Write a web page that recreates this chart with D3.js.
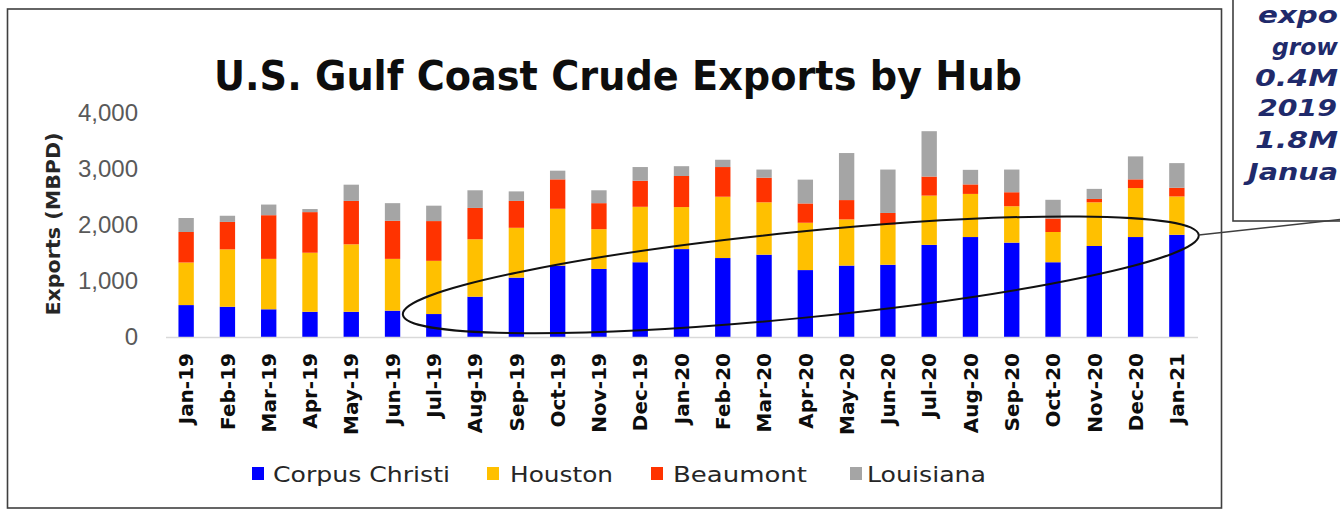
<!DOCTYPE html>
<html>
<head>
<meta charset="utf-8">
<script src="https://cdn.jsdelivr.net/npm/d3@7/dist/d3.min.js"></script>
<style>
  html, body { margin: 0; padding: 0; background: #ffffff; }
  svg { display: block; }
</style>
</head>
<body>
<svg id="chart" width="1340" height="509"></svg>
<script>
// Monthly crude exports from U.S. Gulf Coast hubs, thousand barrels per day
const months = ["Jan-19","Feb-19","Mar-19","Apr-19","May-19","Jun-19","Jul-19","Aug-19",
  "Sep-19","Oct-19","Nov-19","Dec-19","Jan-20","Feb-20","Mar-20","Apr-20","May-20",
  "Jun-20","Jul-20","Aug-20","Sep-20","Oct-20","Nov-20","Dec-20","Jan-21"];
const corpusChristi = [570, 540, 495, 450, 450, 470, 410, 720, 1060, 1275, 1215, 1335, 1570,
  1410, 1470, 1195, 1275, 1290, 1645, 1785, 1685, 1335, 1625, 1785, 1825];
const houston = [760, 1025, 900, 1055, 1205, 925, 950, 1025, 890, 1015, 710, 990, 750,
  1095, 935, 845, 825, 715, 880, 770, 650, 540, 780, 875, 685];
const beaumont = [545, 490, 780, 725, 775, 680, 710, 560, 480, 525, 465, 465, 555,
  530, 440, 345, 345, 210, 340, 170, 250, 240, 60, 155, 155];
const louisiana = [250, 110, 190, 55, 290, 315, 275, 315, 170, 155, 230, 245, 175,
  130, 145, 425, 840, 775, 810, 260, 405, 335, 180, 410, 440];

const seriesNames = ["Corpus Christi", "Houston", "Beaumont", "Louisiana"];
const seriesColors = ["#0000FF", "#FFC000", "#FF3300", "#A5A5A5"];
const yTicks = [0, 1000, 2000, 3000, 4000];

const titleText = "U.S. Gulf Coast Crude Exports by Hub";
const yAxisTitle = "Exports (MBPD)";
// callout note, as much of each line as fits inside the page edge
const noteLines = ["expo", "grow", "0.4M", "2019", "1.8M", "Janua"];

// one row per month for the stack layout
const seriesArrays = [corpusChristi, houston, beaumont, louisiana];
const rows = months.map((m, i) => {
  const r = { month: m };
  seriesNames.forEach((s, k) => { r[s] = seriesArrays[k][i]; });
  return r;
});

const svg = d3.select("#chart");

// chart frame
svg.append("rect")
  .attr("x", 7.5).attr("y", 9)
  .attr("width", 1214).attr("height", 499)
  .attr("fill", "#ffffff")
  .attr("stroke", "#3f3f3f").attr("stroke-width", 1.6);

const x = d3.scaleBand().domain(months).range([165.5, 1197.5])
  .paddingInner(0.628).paddingOuter(0.314);
const y = d3.scaleLinear().domain([0, 4000]).range([337, 113]);

// title
svg.append("text")
  .attr("x", 214).attr("y", 90)
  .attr("font-family", "DejaVu Sans, sans-serif")
  .attr("font-weight", "bold")
  .attr("font-size", 40)
  .attr("fill", "#0d0d0d")
  .attr("textLength", 808)
  .attr("lengthAdjust", "spacingAndGlyphs")
  .text(titleText);

// y axis labels
const yAxis = svg.append("g")
  .attr("transform", "translate(140,0)")
  .call(d3.axisLeft(y).tickValues(yTicks).tickFormat(d3.format(",")).tickSize(0).tickPadding(2));
yAxis.select(".domain").remove();
yAxis.selectAll("text")
  .attr("font-family", "Liberation Sans, Arial, sans-serif")
  .attr("font-size", 24)
  .attr("fill", "#595959");

svg.append("text")
  .attr("transform", "translate(60,224) rotate(-90)")
  .attr("text-anchor", "middle")
  .attr("font-family", "DejaVu Sans, sans-serif")
  .attr("font-weight", "bold")
  .attr("font-size", 19)
  .attr("fill", "#262626")
  .attr("textLength", 183)
  .attr("lengthAdjust", "spacingAndGlyphs")
  .text(yAxisTitle);

// stacked bars
const stacked = d3.stack().keys(seriesNames)(rows);
svg.append("g").selectAll("g")
  .data(stacked)
  .join("g")
  .attr("fill", (d, i) => seriesColors[i])
  .selectAll("rect")
  .data(d => d)
  .join("rect")
  .attr("x", d => x(d.data.month))
  .attr("width", x.bandwidth())
  .attr("y", d => y(d[1]))
  .attr("height", d => y(d[0]) - y(d[1]));

// x axis
const xAxis = svg.append("g")
  .attr("transform", `translate(0,${y(0)})`)
  .call(d3.axisBottom(x).tickSize(0).tickSizeOuter(0));
xAxis.select(".domain").attr("stroke", "#d9d9d9").attr("stroke-width", 1.5);
xAxis.selectAll("text")
  .attr("font-family", "DejaVu Sans, sans-serif")
  .attr("font-weight", "bold")
  .attr("font-size", 20)
  .attr("fill", "#0d0d0d")
  .attr("text-anchor", "end")
  .attr("transform", "rotate(-90)")
  .attr("x", -16)
  .attr("y", 0)
  .attr("dy", "0.36em");

// ellipse around the Corpus Christi run-up (0.4 to 1.8 MMBPD)
const cx = m => x(m) + x.bandwidth() / 2;
const tipL = [cx("Jul-19") - 0.75 * x.step(), y(400)];
const tipR = [cx("Jan-21") + 0.53 * x.step(), y(1820)];
const ecx = (tipL[0] + tipR[0]) / 2, ecy = (tipL[1] + tipR[1]) / 2;
const erx = Math.hypot(tipR[0] - tipL[0], tipR[1] - tipL[1]) / 2;
const eang = Math.atan2(tipR[1] - tipL[1], tipR[0] - tipL[0]) * 180 / Math.PI;
svg.append("ellipse")
  .attr("cx", ecx).attr("cy", ecy)
  .attr("rx", erx).attr("ry", 43)
  .attr("transform", `rotate(${eang},${ecx},${ecy})`)
  .attr("fill", "none")
  .attr("stroke", "#111111")
  .attr("stroke-width", 2);

// callout box with note
svg.append("rect")
  .attr("x", 1233).attr("y", -10)
  .attr("width", 220).attr("height", 231)
  .attr("fill", "#ffffff")
  .attr("stroke", "#3f3f3f").attr("stroke-width", 1.6);

svg.append("line")
  .attr("x1", tipR[0]).attr("y1", tipR[1])
  .attr("x2", 1345).attr("y2", 219)
  .attr("stroke", "#3f3f3f").attr("stroke-width", 1.5);

const noteX = [1258, 1272, 1255, 1258, 1255, 1248];
const noteW = [80, 66, 83, 79, 83, 90];
const noteY = [23, 55, 86, 116, 148, 180];
svg.append("g").selectAll("text")
  .data(noteLines)
  .join("text")
  .attr("x", (d, i) => noteX[i])
  .attr("y", (d, i) => noteY[i])
  .attr("font-family", "DejaVu Sans, sans-serif")
  .attr("font-weight", "bold")
  .attr("font-style", "italic")
  .attr("font-size", 23)
  .attr("fill", "#1f2a6b")
  .attr("textLength", (d, i) => noteW[i])
  .attr("lengthAdjust", "spacingAndGlyphs")
  .text(d => d);

// legend
const legendSquareX = [252, 487, 651, 850];
const legendTextX = [273, 510, 673, 867];
const legendTextW = [177, 103, 134, 119];
const lg = svg.append("g").selectAll("g")
  .data(seriesNames)
  .join("g");
lg.append("rect")
  .attr("x", (d, i) => legendSquareX[i])
  .attr("y", 467)
  .attr("width", 12).attr("height", 13)
  .attr("fill", (d, i) => seriesColors[i]);
lg.append("text")
  .attr("x", (d, i) => legendTextX[i])
  .attr("y", 482)
  .attr("font-family", "DejaVu Sans, sans-serif")
  .attr("font-size", 22)
  .attr("fill", "#262626")
  .attr("textLength", (d, i) => legendTextW[i])
  .attr("lengthAdjust", "spacingAndGlyphs")
  .text(d => d);
</script>
</body>
</html>
